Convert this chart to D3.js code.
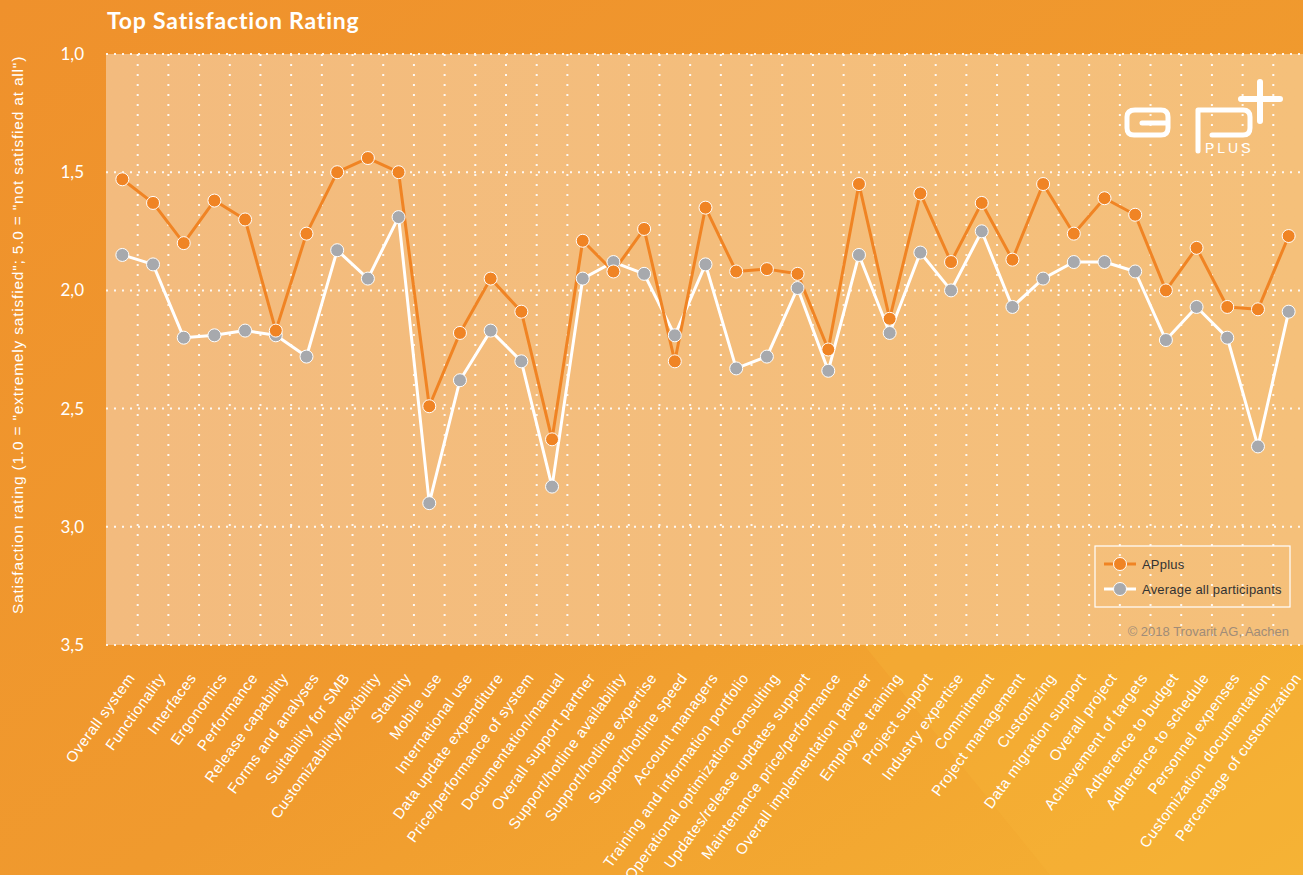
<!DOCTYPE html>
<html><head><meta charset="utf-8">
<script src="https://cdn.jsdelivr.net/npm/d3@7"></script>
<style>html,body{margin:0;padding:0;overflow:hidden;background:#f0962e}</style>
</head><body>
<svg id="chart" width="1303" height="875"></svg>
<script>
const categories = ["Overall system","Functionality","Interfaces","Ergonomics","Performance","Release capability","Forms and analyses","Suitability for SMB","Customizability/flexibility","Stability","Mobile use","International use","Data update expenditure","Price/performance of system","Documentation/manual","Overall support partner","Support/hotline availability","Support/hotline expertise","Support/hotline speed","Account managers","Training and information portfolio","Operational optimization consulting","Updates/release updates support","Maintenance price/performance","Overall implementation partner","Employee training","Project support","Industry expertise","Commitment","Project management","Customizing","Data migration support","Overall project","Achievement of targets","Adherence to budget","Adherence to schedule","Personnel expenses","Customization documentation","Percentage of customization"];
const applus = [1.53,1.63,1.80,1.62,1.70,2.17,1.76,1.50,1.44,1.50,2.49,2.18,1.95,2.09,2.63,1.79,1.92,1.74,2.30,1.65,1.92,1.91,1.93,2.25,1.55,2.12,1.59,1.88,1.63,1.87,1.55,1.76,1.61,1.68,2.00,1.82,2.07,2.08,1.77];
const average = [1.85,1.89,2.20,2.19,2.17,2.19,2.28,1.83,1.95,1.69,2.90,2.38,2.17,2.30,2.83,1.95,1.88,1.93,2.19,1.89,2.33,2.28,1.99,2.34,1.85,2.18,1.84,2.00,1.75,2.07,1.95,1.88,1.88,1.92,2.21,2.07,2.20,2.66,2.09];
const yTicks = [1.0,1.5,2.0,2.5,3.0,3.5];
const seriesNames = ["APplus","Average all participants"];

const svg = d3.select("#chart");
const W = 1303, H = 875;
const plot = {left:106, right:1303, top:54, bottom:645};

const defs = svg.append("defs");
const bg = defs.append("linearGradient").attr("id","bg").attr("x1","0").attr("y1","0").attr("x2","1").attr("y2","1");
bg.append("stop").attr("offset","0%").attr("stop-color","#ef912c");
bg.append("stop").attr("offset","55%").attr("stop-color","#f09a2e");
bg.append("stop").attr("offset","100%").attr("stop-color","#f5b233");
svg.append("rect").attr("width",W).attr("height",H).attr("fill","url(#bg)");
svg.append("path").attr("d","M1050,875 L860,640 L1303,640 L1303,875 Z").attr("fill","#f6b53a").attr("opacity",0.35);

const pg = defs.append("linearGradient").attr("id","pbg").attr("x1","0").attr("y1","0").attr("x2","1").attr("y2","0");
pg.append("stop").attr("offset","0%").attr("stop-color","#f3bb7e");
pg.append("stop").attr("offset","100%").attr("stop-color","#f5c07a");
svg.append("rect").attr("x",plot.left).attr("y",plot.top).attr("width",plot.right-plot.left).attr("height",plot.bottom-plot.top).attr("fill","url(#pbg)");

const x = d3.scaleBand().domain(categories).range([107,1304]).padding(0);
const cx = c => x(c) + x.bandwidth()/2;
const y = d3.scaleLinear().domain([1.0,3.5]).range([plot.top, plot.bottom]);

const gx = categories.slice(1).map(c => x(c));
svg.append("g").selectAll("line").data(gx).join("line")
  .attr("x1",d=>d).attr("x2",d=>d).attr("y1",plot.top).attr("y2",plot.bottom)
  .attr("stroke","#fff").attr("stroke-width",2).attr("stroke-dasharray","2,8").attr("opacity",0.9);
svg.append("g").selectAll("line").data(yTicks).join("line")
  .attr("x1",plot.left).attr("x2",plot.right).attr("y1",d=>y(d)).attr("y2",d=>y(d))
  .attr("stroke","#fff").attr("stroke-width",2).attr("stroke-dasharray","2,6").attr("opacity",0.9);

const yAxis = d3.axisLeft(y).tickValues(yTicks).tickSize(0).tickPadding(0)
  .tickFormat(d => d3.format(".1f")(d).replace(".",","));
const ya = svg.append("g").attr("transform","translate(84,0)").call(yAxis);
ya.select(".domain").remove();
ya.selectAll("text").attr("fill","#fff").attr("font-family","Lato, 'Open Sans', sans-serif").attr("font-size",17);

svg.append("text").attr("transform","translate(23,335) rotate(-90)").attr("text-anchor","middle")
  .attr("fill","#fff").attr("font-family","'Liberation Sans', Arial, sans-serif").attr("font-size",15.5).attr("letter-spacing",0.8)
  .text('Satisfaction rating (1.0 = "extremely satisfied"; 5.0 = "not satisfied at all")');

svg.append("text").attr("x",107).attr("y",29).attr("fill","#fff")
  .attr("font-family","Lato, 'Open Sans', sans-serif").attr("font-weight","bold").attr("font-size",23).attr("letter-spacing",0.8)
  .text("Top Satisfaction Rating");

const xAxis = d3.axisBottom(x).tickSize(0).tickPadding(0);
const xa = svg.append("g").attr("transform",`translate(0,${plot.bottom})`).call(xAxis);
xa.select(".domain").remove();
xa.selectAll("text").attr("fill","#fff").attr("font-family","'Liberation Sans', Arial, sans-serif").attr("font-size",15).attr("letter-spacing",0.5)
  .attr("text-anchor","end").attr("dy","0.35em")
  .attr("transform","translate(9,30) rotate(-54)");

const line = d3.line().x((d,i)=>cx(categories[i])).y(d=>y(d));
svg.append("path").datum(average).attr("d",line).attr("fill","none").attr("stroke","#fff").attr("stroke-width",3).attr("stroke-linejoin","round");
svg.append("path").datum(applus).attr("d",line).attr("fill","none").attr("stroke","#f08424").attr("stroke-width",3).attr("stroke-linejoin","round");

svg.append("g").selectAll("circle").data(average).join("circle")
  .attr("cx",(d,i)=>cx(categories[i])).attr("cy",d=>y(d)).attr("r",6.5)
  .attr("fill","#a7a9ad").attr("stroke","#fff").attr("stroke-width",1);
svg.append("g").selectAll("circle").data(applus).join("circle")
  .attr("cx",(d,i)=>cx(categories[i])).attr("cy",d=>y(d)).attr("r",6.5)
  .attr("fill","#f08424").attr("stroke","#fff").attr("stroke-width",1);

const lg = svg.append("g");
lg.append("rect").attr("x",1095).attr("y",546).attr("width",195).attr("height",61)
  .attr("fill","none").attr("stroke","#fff").attr("stroke-width",1.2);
const lc = [{name:seriesNames[0],line:"#f08424",fill:"#f08424"},{name:seriesNames[1],line:"#fff",fill:"#a7a9ad"}];
lc.forEach((d,i)=>{
  const yy = 564 + i*25;
  lg.append("line").attr("x1",1104).attr("x2",1136).attr("y1",yy).attr("y2",yy).attr("stroke",d.line).attr("stroke-width",3);
  lg.append("circle").attr("cx",1120).attr("cy",yy).attr("r",6.5).attr("fill",d.fill).attr("stroke","#fff").attr("stroke-width",1);
  lg.append("text").attr("x",1142).attr("y",yy+4.5).attr("fill","#333").attr("font-family","'Liberation Sans', Arial, sans-serif").attr("font-size",13).attr("letter-spacing",0.2).text(d.name);
});

svg.append("text").attr("x",1289).attr("y",636).attr("text-anchor","end").attr("fill","#a08c78")
  .attr("font-family","'Liberation Sans', Arial, sans-serif").attr("font-size",13).text("© 2018 Trovarit AG, Aachen");

const logo = svg.append("g").attr("fill","none").attr("stroke","#fff").attr("stroke-width",5).attr("stroke-linecap","round").attr("stroke-linejoin","round");
logo.append("path").attr("d","M1135,110 L1161,110 Q1168,110 1168,117 L1168,128 Q1168,135 1161,135 L1134,135 Q1127,135 1127,128 L1127,117 Q1127,110 1135,110 Z M1142,123 L1168,123");
logo.append("path").attr("d","M1198,151 L1198,110 L1243,110 Q1250,110 1250,117 L1250,128 Q1250,135 1243,135 L1212,135");
logo.append("path").attr("d","M1260,82 L1260,121 M1241,99 L1280,99").attr("stroke-width",6);
svg.append("text").attr("x",1205).attr("y",153).attr("fill","#fff").attr("font-family","'Liberation Sans', Arial, sans-serif")
  .attr("font-size",14).attr("letter-spacing",3).text("PLUS");
</script>
</body></html>
